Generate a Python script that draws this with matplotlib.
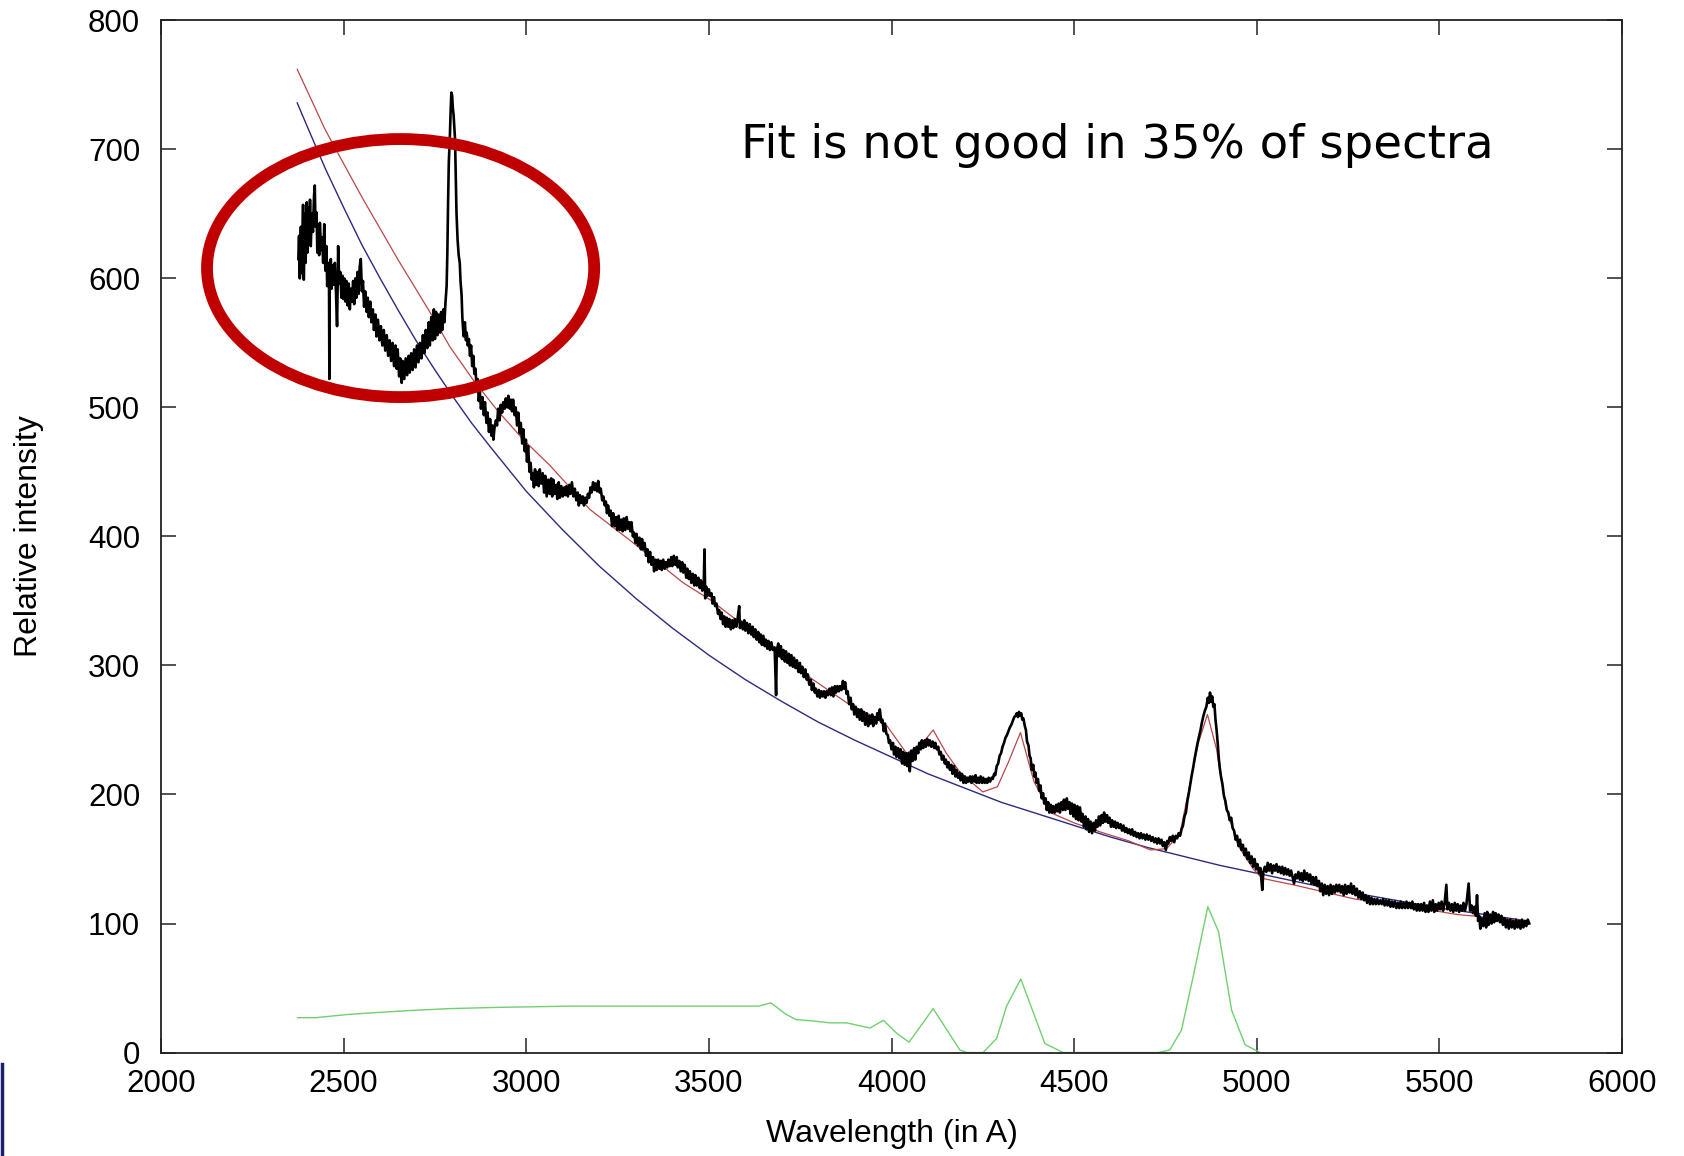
import matplotlib
matplotlib.use("Agg")
import matplotlib.pyplot as plt
from matplotlib.patches import Ellipse
from matplotlib.lines import Line2D

spectrum = [
    (2376, 615), (2378, 633), (2380, 600), (2383, 640), (2385, 604), (2389, 657), (2391, 599),
    (2394, 650), (2396, 612), (2399, 659), (2401, 620), (2404, 655), (2406, 628), (2408, 661),
    (2410, 625), (2413, 650), (2416, 636), (2419, 664), (2421, 672), (2423, 640), (2426, 651),
    (2428, 620), (2431, 640), (2433, 618), (2435, 643), (2438, 622), (2441, 632), (2444, 612),
    (2447, 642), (2450, 606), (2453, 625), (2455, 594), (2458, 612), (2460, 600), (2461, 522),
    (2462, 608), (2465, 615), (2467, 592), (2470, 610), (2473, 595), (2476, 612), (2479, 590),
    (2482, 563), (2484, 600), (2485, 625), (2488, 596), (2491, 605), (2494, 585), (2497, 602),
    (2499, 584), (2502, 600), (2505, 582), (2508, 598), (2511, 579), (2514, 596), (2517, 576),
    (2520, 592), (2523, 582), (2526, 598), (2529, 580), (2532, 600), (2535, 585), (2538, 605),
    (2541, 588), (2544, 609), (2547, 615), (2550, 590), (2553, 598), (2556, 578), (2559, 590),
    (2563, 574), (2566, 585), (2569, 570), (2573, 582), (2576, 566), (2580, 576), (2583, 560),
    (2587, 572), (2590, 555), (2594, 568), (2598, 552), (2602, 563), (2606, 548), (2610, 560),
    (2614, 544), (2618, 556), (2622, 540), (2626, 552), (2630, 536), (2634, 550), (2638, 532),
    (2642, 548), (2645, 530), (2648, 545), (2652, 524), (2655, 538), (2659, 519), (2662, 536),
    (2666, 522), (2670, 538), (2674, 525), (2678, 540), (2681, 527), (2685, 542), (2689, 529),
    (2693, 545), (2697, 531), (2701, 548), (2705, 535), (2709, 550), (2713, 538), (2717, 556),
    (2721, 542), (2725, 560), (2729, 546), (2733, 566), (2736, 548), (2740, 570), (2744, 552),
    (2747, 576), (2750, 553), (2753, 574), (2757, 556), (2760, 572), (2764, 558), (2767, 574),
    (2770, 560), (2773, 576), (2776, 566), (2779, 582), (2782, 594), (2784, 620), (2786, 659),
    (2788, 690), (2791, 711), (2793, 730), (2795, 744), (2797, 742), (2799, 732), (2801, 727),
    (2803, 718), (2805, 708), (2807, 680), (2809, 651), (2812, 630), (2815, 618), (2818, 612),
    (2820, 598), (2823, 587), (2825, 570), (2827, 561), (2829, 555), (2832, 566), (2835, 552),
    (2837, 558), (2840, 548), (2843, 553), (2846, 540), (2849, 548), (2852, 532), (2855, 540),
    (2858, 526), (2861, 530), (2864, 515), (2867, 522), (2870, 505), (2873, 512), (2876, 499),
    (2880, 508), (2884, 494), (2887, 504), (2891, 488), (2894, 496), (2898, 481), (2901, 491),
    (2905, 478), (2908, 486), (2910, 475), (2913, 484), (2917, 490), (2920, 486), (2923, 499),
    (2927, 490), (2930, 502), (2934, 496), (2937, 504), (2941, 499), (2944, 507), (2948, 500),
    (2951, 509), (2955, 499), (2958, 506), (2961, 497), (2964, 506), (2968, 494), (2971, 500),
    (2975, 486), (2978, 496), (2982, 480), (2985, 488), (2989, 472), (2992, 483), (2996, 466),
    (2999, 475), (3002, 458), (3005, 470), (3009, 450), (3012, 457), (3015, 444), (3018, 449),
    (3021, 438), (3024, 452), (3027, 440), (3030, 450), (3034, 439), (3037, 452), (3041, 441),
    (3045, 449), (3049, 434), (3052, 447), (3056, 431), (3060, 444), (3064, 433), (3068, 445),
    (3071, 431), (3074, 444), (3078, 433), (3082, 440), (3085, 429), (3089, 442), (3092, 430),
    (3096, 439), (3100, 431), (3104, 438), (3107, 432), (3110, 439), (3114, 431), (3118, 440),
    (3121, 433), (3125, 442), (3129, 431), (3133, 437), (3137, 428), (3141, 434), (3144, 424),
    (3147, 432), (3151, 426), (3155, 431), (3158, 424), (3162, 430), (3165, 426), (3169, 433),
    (3172, 430), (3176, 438), (3179, 434), (3183, 442), (3187, 436), (3190, 441), (3194, 435),
    (3197, 443), (3201, 434), (3204, 437), (3208, 428), (3211, 431), (3215, 424), (3218, 427),
    (3221, 418), (3224, 424), (3228, 416), (3231, 420), (3235, 408), (3238, 418), (3242, 408),
    (3246, 415), (3249, 405), (3253, 416), (3256, 405), (3260, 413), (3264, 404), (3267, 414),
    (3271, 405), (3275, 415), (3278, 406), (3282, 411), (3285, 404), (3288, 411), (3292, 400),
    (3295, 403), (3299, 395), (3302, 402), (3306, 393), (3310, 399), (3314, 390), (3317, 398),
    (3320, 390), (3324, 395), (3328, 385), (3332, 390), (3335, 380), (3339, 388), (3343, 378),
    (3347, 384), (3350, 373), (3354, 382), (3357, 374), (3361, 382), (3364, 375), (3368, 381),
    (3371, 374), (3375, 382), (3379, 375), (3382, 380), (3386, 376), (3389, 382), (3393, 377),
    (3397, 384), (3400, 377), (3404, 385), (3408, 378), (3412, 384), (3415, 376), (3419, 381),
    (3423, 373), (3427, 380), (3430, 372), (3434, 378), (3438, 368), (3441, 375), (3445, 367),
    (3448, 373), (3452, 364), (3456, 371), (3460, 362), (3463, 370), (3467, 362), (3471, 368),
    (3475, 360), (3478, 366), (3482, 358), (3486, 364), (3488, 390), (3490, 352), (3493, 361),
    (3496, 354), (3500, 359), (3503, 354), (3507, 356), (3510, 348), (3514, 353), (3517, 346),
    (3521, 348), (3525, 340), (3528, 343), (3532, 336), (3535, 341), (3539, 332), (3542, 338),
    (3546, 330), (3549, 337), (3553, 330), (3556, 336), (3560, 328), (3564, 335), (3567, 329),
    (3571, 336), (3575, 330), (3578, 335), (3583, 346), (3585, 329), (3589, 334), (3593, 328),
    (3597, 335), (3600, 327), (3604, 333), (3608, 325), (3612, 332), (3616, 324), (3620, 330),
    (3623, 322), (3627, 328), (3631, 320), (3635, 326), (3638, 318), (3642, 324), (3645, 316),
    (3649, 323), (3653, 315), (3656, 320), (3660, 313), (3663, 319), (3667, 312), (3671, 318),
    (3675, 312), (3680, 314), (3684, 277), (3686, 312), (3690, 317), (3693, 307), (3697, 315),
    (3700, 305), (3704, 312), (3708, 303), (3711, 311), (3715, 302), (3719, 309), (3722, 300),
    (3726, 308), (3730, 299), (3733, 306), (3737, 298), (3741, 304), (3745, 295), (3749, 302),
    (3752, 294), (3756, 299), (3760, 291), (3764, 297), (3768, 289), (3771, 293), (3775, 285),
    (3779, 289), (3782, 281), (3786, 286), (3790, 279), (3793, 282), (3797, 276), (3801, 281),
    (3804, 275), (3808, 280), (3812, 276), (3815, 280), (3819, 275), (3822, 280), (3826, 277),
    (3830, 282), (3834, 277), (3837, 283), (3841, 276), (3845, 284), (3848, 279), (3852, 284),
    (3856, 280), (3859, 284), (3863, 281), (3867, 288), (3870, 282), (3873, 287), (3877, 278),
    (3880, 280), (3884, 270), (3888, 275), (3891, 266), (3895, 270), (3898, 262), (3902, 268),
    (3906, 260), (3909, 266), (3913, 258), (3917, 266), (3920, 257), (3924, 264), (3928, 254),
    (3932, 263), (3936, 253), (3939, 261), (3943, 255), (3947, 262), (3950, 253), (3954, 260),
    (3958, 255), (3961, 263), (3965, 258), (3968, 266), (3972, 256), (3975, 258), (3979, 249),
    (3982, 255), (3986, 247), (3990, 246), (3993, 240), (3996, 242), (4000, 235), (4004, 240),
    (4007, 231), (4011, 237), (4014, 229), (4018, 236), (4022, 228), (4025, 235), (4029, 224),
    (4032, 233), (4036, 223), (4040, 232), (4043, 222), (4047, 232), (4050, 218), (4054, 234),
    (4058, 226), (4062, 236), (4065, 227), (4069, 237), (4073, 232), (4076, 240), (4080, 235),
    (4083, 242), (4087, 236), (4091, 242), (4094, 237), (4098, 243), (4102, 238), (4105, 242),
    (4109, 237), (4113, 241), (4117, 236), (4120, 240), (4124, 235), (4128, 237), (4131, 231),
    (4135, 233), (4138, 227), (4142, 230), (4146, 224), (4149, 227), (4153, 221), (4156, 225),
    (4160, 219), (4164, 223), (4167, 216), (4171, 222), (4175, 214), (4178, 219), (4182, 213),
    (4186, 217), (4189, 211), (4193, 216), (4197, 209), (4201, 214), (4204, 209), (4208, 213),
    (4211, 210), (4215, 214), (4219, 209), (4222, 214), (4226, 210), (4230, 215), (4233, 209),
    (4237, 213), (4240, 209), (4244, 214), (4248, 209), (4251, 213), (4255, 209), (4259, 212),
    (4262, 209), (4266, 213), (4270, 210), (4274, 213), (4277, 212), (4281, 216), (4284, 215),
    (4288, 222), (4292, 224), (4296, 230), (4300, 232), (4304, 237), (4308, 240), (4312, 244),
    (4316, 246), (4320, 249), (4324, 252), (4328, 254), (4332, 257), (4336, 260), (4340, 261),
    (4343, 263), (4346, 260), (4349, 264), (4352, 261), (4355, 263), (4358, 258), (4361, 259),
    (4365, 253), (4368, 250), (4371, 241), (4375, 238), (4378, 230), (4381, 228), (4384, 219),
    (4388, 223), (4391, 214), (4394, 217), (4397, 209), (4401, 212), (4404, 203), (4408, 207),
    (4411, 197), (4415, 201), (4418, 193), (4422, 197), (4425, 188), (4429, 194), (4432, 186),
    (4436, 192), (4440, 186), (4443, 191), (4447, 186), (4451, 192), (4454, 187), (4458, 193),
    (4461, 186), (4465, 194), (4469, 188), (4472, 196), (4476, 188), (4480, 197), (4483, 189),
    (4487, 194), (4490, 185), (4494, 193), (4498, 183), (4501, 192), (4505, 181), (4509, 191),
    (4512, 180), (4516, 190), (4520, 179), (4523, 185), (4527, 175), (4531, 183), (4534, 173),
    (4538, 181), (4541, 171), (4545, 179), (4549, 170), (4553, 178), (4557, 172), (4560, 180),
    (4564, 175), (4568, 183), (4571, 176), (4575, 184), (4579, 178), (4582, 186), (4586, 179),
    (4590, 184), (4593, 178), (4597, 182), (4601, 175), (4604, 180), (4608, 175), (4612, 179),
    (4615, 174), (4619, 178), (4623, 174), (4627, 177), (4631, 172), (4635, 176), (4639, 171),
    (4643, 174), (4647, 170), (4651, 173), (4655, 169), (4659, 173), (4663, 168), (4667, 171),
    (4671, 167), (4675, 170), (4679, 166), (4683, 170), (4687, 166), (4691, 169), (4695, 165),
    (4699, 169), (4703, 165), (4707, 168), (4711, 164), (4715, 167), (4719, 163), (4723, 166),
    (4727, 162), (4731, 166), (4735, 162), (4739, 165), (4743, 160), (4747, 163), (4751, 157),
    (4755, 164), (4758, 162), (4762, 167), (4766, 164), (4770, 168), (4774, 163), (4778, 168),
    (4782, 166), (4786, 170), (4790, 168), (4794, 173), (4798, 176), (4802, 183), (4806, 186),
    (4810, 195), (4814, 201), (4818, 208), (4822, 215), (4826, 221), (4830, 228), (4834, 234),
    (4838, 240), (4842, 245), (4846, 250), (4850, 256), (4854, 261), (4858, 265), (4862, 268),
    (4866, 275), (4869, 271), (4872, 279), (4875, 272), (4878, 276), (4881, 268), (4884, 270),
    (4887, 258), (4890, 250), (4893, 240), (4896, 228), (4899, 220), (4902, 214), (4906, 208),
    (4910, 199), (4914, 195), (4918, 188), (4922, 186), (4926, 180), (4930, 182), (4934, 174),
    (4938, 172), (4942, 165), (4946, 168), (4950, 160), (4954, 165), (4958, 157), (4962, 161),
    (4966, 153), (4970, 158), (4974, 150), (4978, 155), (4982, 147), (4986, 152), (4990, 144),
    (4994, 150), (4998, 142), (5002, 146), (5006, 139), (5010, 143), (5015, 126), (5018, 140),
    (5022, 144), (5026, 140), (5030, 147), (5034, 141), (5038, 146), (5042, 139), (5046, 145),
    (5050, 141), (5054, 146), (5058, 140), (5062, 144), (5066, 139), (5070, 144), (5074, 138),
    (5078, 143), (5082, 138), (5086, 142), (5090, 137), (5094, 141), (5098, 136), (5102, 131),
    (5106, 138), (5110, 135), (5114, 140), (5118, 134), (5122, 139), (5126, 133), (5130, 141),
    (5134, 134), (5138, 139), (5142, 133), (5146, 138), (5150, 131), (5154, 136), (5158, 130),
    (5162, 136), (5166, 129), (5170, 133), (5174, 125), (5178, 131), (5182, 122), (5186, 130),
    (5190, 123), (5194, 129), (5198, 122), (5202, 130), (5206, 123), (5210, 129), (5214, 124),
    (5218, 130), (5222, 125), (5226, 130), (5230, 124), (5234, 129), (5238, 122), (5242, 130),
    (5246, 123), (5250, 129), (5254, 124), (5258, 131), (5262, 123), (5266, 129), (5270, 122),
    (5274, 127), (5278, 120), (5282, 125), (5286, 119), (5290, 124), (5294, 118), (5298, 122),
    (5302, 116), (5306, 121), (5310, 115), (5314, 120), (5318, 115), (5322, 119), (5326, 115),
    (5330, 119), (5334, 115), (5338, 118), (5342, 115), (5346, 119), (5350, 114), (5354, 118),
    (5358, 114), (5362, 118), (5366, 113), (5370, 117), (5374, 113), (5378, 117), (5382, 112),
    (5386, 116), (5390, 112), (5394, 117), (5398, 112), (5402, 116), (5406, 112), (5410, 117),
    (5414, 112), (5418, 116), (5422, 112), (5426, 117), (5430, 111), (5434, 115), (5438, 110),
    (5442, 115), (5446, 110), (5450, 115), (5454, 110), (5458, 116), (5462, 109), (5466, 114),
    (5470, 109), (5474, 117), (5478, 110), (5482, 118), (5486, 109), (5490, 115), (5494, 110),
    (5498, 116), (5502, 111), (5506, 117), (5510, 110), (5514, 115), (5519, 130), (5522, 111),
    (5526, 116), (5530, 110), (5534, 115), (5538, 109), (5542, 116), (5546, 110), (5550, 115),
    (5554, 109), (5558, 114), (5562, 110), (5566, 116), (5570, 110), (5574, 115), (5580, 131),
    (5584, 110), (5588, 114), (5592, 108), (5596, 113), (5600, 106), (5603, 122), (5606, 102),
    (5609, 106), (5612, 96), (5616, 104), (5620, 98), (5624, 108), (5628, 97), (5631, 109),
    (5635, 99), (5639, 107), (5643, 100), (5647, 109), (5650, 101), (5654, 108), (5658, 102),
    (5662, 107), (5666, 101), (5670, 106), (5674, 99), (5678, 104), (5682, 97), (5686, 103),
    (5690, 96), (5694, 103), (5698, 97), (5702, 102), (5706, 96), (5710, 103), (5714, 97),
    (5718, 102), (5722, 96), (5726, 103), (5730, 97), (5734, 102), (5738, 98), (5742, 103),
    (5746, 100),
]
spec_wl = [p[0] for p in spectrum]
spec_flux = [p[1] for p in spectrum]

# full fit (red)
fit_wl = [2373, 2450, 2550, 2650, 2736, 2791, 2853, 2920, 2992, 3065, 3174, 3293, 3430,
          3503, 3600, 3686, 3780, 3878, 3940, 3988, 4041, 4080, 4114, 4150, 4188, 4250,
          4290, 4320, 4353, 4390, 4435, 4500, 4571, 4650, 4709, 4753, 4790, 4815, 4840,
          4865, 4890, 4915, 4950, 4991, 5015, 5100, 5268, 5400, 5548, 5735]
fit_flux = [762, 715, 663, 614, 574, 547, 522, 498, 475, 455, 421, 395, 364,
            351, 330, 310, 290, 271, 262, 253, 232, 238, 250, 232, 217, 202,
            206, 225, 248, 210, 186, 178, 171, 164, 157, 158, 170, 205, 240,
            262, 235, 190, 160, 142, 135, 130, 119, 114, 107, 102]

# continuum (blue)
cont_wl = [2373, 2400, 2450, 2500, 2550, 2600, 2650, 2700, 2750, 2800, 2850, 2900,
           3000, 3100, 3200, 3300, 3400, 3500, 3600, 3700, 3800, 3900, 4000, 4100,
           4200, 4300, 4400, 4500, 4600, 4700, 4800, 4900, 5000, 5100, 5200, 5300,
           5400, 5500, 5600, 5740]
cont_flux = [736, 718, 685, 655, 626, 600, 575, 551, 529, 508, 488, 470,
             435, 405, 377, 352, 329, 308, 289, 272, 256, 242, 229, 216,
             205, 194, 185, 176, 167, 159, 152, 145, 139, 133, 127, 122,
             117, 112, 108, 102]

# emission lines component (green)
lines_wl = [2374, 2423, 2511, 2590, 2678, 2785, 2922, 3127, 3303, 3636, 3670, 3709,
            3739, 3783, 3832, 3877, 3941, 3978, 4014, 4048, 4114, 4146, 4187, 4206,
            4251, 4288, 4315, 4354, 4379, 4420, 4470, 4730, 4762, 4794, 4826, 4866,
            4895, 4931, 4968, 5009]
lines_flux = [27, 27, 29.5, 31, 32.5, 34, 35, 36, 36, 36, 38.5, 30,
              25.5, 24.5, 23, 23, 19, 25, 15, 8, 34, 20, 2, 0,
              0, 11, 36, 57, 38, 7, 0, 0, 2, 17.5, 59, 113,
              94, 33, 6, 0]

x_ticks = [2000, 2500, 3000, 3500, 4000, 4500, 5000, 5500, 6000]
y_ticks = [0, 100, 200, 300, 400, 500, 600, 700, 800]

fig = plt.figure(figsize=(16.84, 11.56), dpi=100)
ax = fig.add_axes([0.0956, 0.0895, 0.8676, 0.8929])

ax.plot(lines_wl, lines_flux, color="#6fd06f", lw=1.0, zorder=2)
ax.plot(cont_wl, cont_flux, color="#2b2b80", lw=1.0, zorder=2)
ax.plot(fit_wl, fit_flux, color="#b84848", lw=0.9, zorder=2)
ax.plot(spec_wl, spec_flux, color="black", lw=1.9, zorder=3)

ax.set_xlim(2000, 6000)
ax.set_ylim(0, 800)
ax.set_xticks(x_ticks)
ax.set_yticks(y_ticks)

tick_font = {"family": "Liberation Sans", "size": 22.5}
ax.set_xticklabels([str(t) for t in x_ticks], fontdict=tick_font)
ax.set_yticklabels([str(t) for t in y_ticks], fontdict=tick_font)
ax.tick_params(direction="in", length=10.8, width=1.1, top=True, right=True,
               color="#222222")
ax.tick_params(axis="x", pad=12)
ax.tick_params(axis="y", pad=15)
for s in ax.spines.values():
    s.set_linewidth(1.3)
    s.set_color("#222222")

ax.set_xlabel("Wavelength (in A)", family="Liberation Sans", size=23)
ax.set_ylabel("Relative intensity", family="Liberation Sans", size=23)
ax.xaxis.set_label_coords(0.5, -0.064)
ax.yaxis.set_label_coords(-0.080, 0.5)

# highlight and comment
ax.add_patch(Ellipse((2656, 608), 1060, 200, fill=False, edgecolor="#c00000",
                     lw=8.5, zorder=4, clip_on=False))
ax.text(3588, 703, "Fit is not good in 35% of spectra", family="DejaVu Sans",
        size=33.5, ha="left", va="center", zorder=5)

# slide edge mark
fig.add_artist(Line2D([0.001, 0.001], [0.0, 0.080], color="#1e1e6e", lw=2.5))

fig.savefig("out.png", dpi=100)
